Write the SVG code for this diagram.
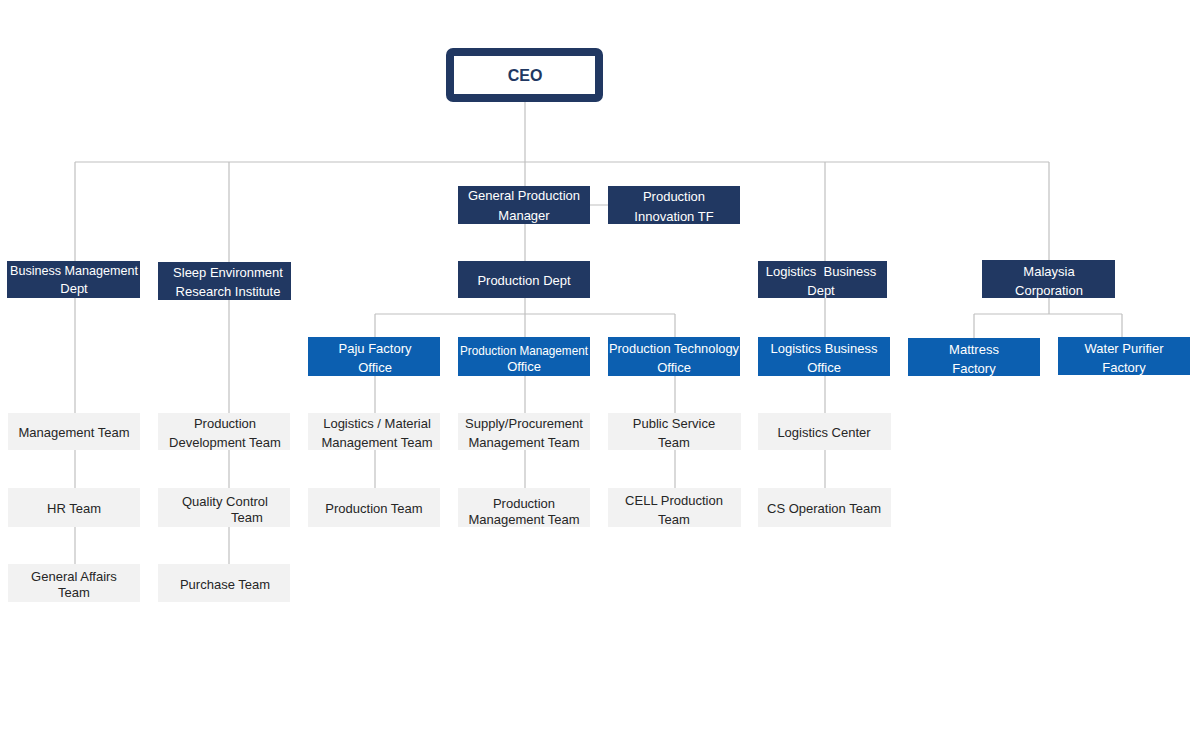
<svg xmlns="http://www.w3.org/2000/svg" width="1200" height="734" viewBox="0 0 1200 734">
<style>
.dk{fill:#213862}
.bl{fill:#0c5fb0}
.gr{fill:#f2f2f2}
.w{fill:#ffffff;font-family:"Liberation Sans","Noto Sans",sans-serif;font-size:13px;text-anchor:middle}
.t{fill:#262626;font-family:"Liberation Sans","Noto Sans",sans-serif;font-size:13px;text-anchor:middle}
.ln{stroke:#c0c0c0;stroke-width:1.2;fill:none}
</style>
<rect width="1200" height="734" fill="#ffffff"/>
<g id="connectors" class="ln">
<path d="M525 102V186M75 162H1049M75 162V261M229 162V262M825 162V261M1049 162V260M590 205H608"/>
<path d="M525 224V261M525 298V337M375 314H675M375 314V337M675 314V337"/>
<path d="M75 298V413M75 450V488M75 527V564"/>
<path d="M229 300V413M229 450V488M229 527V564"/>
<path d="M375 376V413M375 450V488M525 376V413M525 450V488M675 376V413M675 450V488"/>
<path d="M825 298V337M825 376V413M825 450V488"/>
<path d="M1049 298V314M974 314H1122M974 314V338M1122 314V337"/>
</g>
<g id="ceo"><rect x="450" y="52" width="149" height="46" rx="3" fill="#ffffff" stroke="#213862" stroke-width="8"/><text x="525" y="81" class="t" style="font-weight:bold;font-size:16px;fill:#213862">CEO</text></g>
<g id="bm"><rect x="7" y="261" width="133" height="37" class="dk"/><text x="74" y="275" class="w" textLength="128" lengthAdjust="spacingAndGlyphs">Business Management</text><text x="74" y="293" class="w">Dept</text></g>
<g id="se"><rect x="158" y="262" width="133" height="38" class="dk"/><text x="228" y="277" class="w">Sleep Environment</text><text x="228" y="296" class="w">Research Institute</text></g>
<g id="gpm"><rect x="458" y="186" width="132" height="38" class="dk"/><text x="524" y="200" class="w">General Production</text><text x="524" y="220" class="w">Manager</text></g>
<g id="tf"><rect x="608" y="186" width="132" height="38" class="dk"/><text x="674" y="201" class="w">Production</text><text x="674" y="221" class="w">Innovation TF</text></g>
<g id="pd"><rect x="458" y="261" width="132" height="37" class="dk"/><text x="524" y="284.5" class="w">Production Dept</text></g>
<g id="lbd"><rect x="758" y="261" width="129" height="37" class="dk"/><text x="821" y="276" class="w">Logistics&#160; Business</text><text x="821" y="295" class="w">Dept</text></g>
<g id="mc"><rect x="982" y="260" width="133" height="38" class="dk"/><text x="1049" y="276" class="w">Malaysia</text><text x="1049" y="295" class="w">Corporation</text></g>
<g id="pfo"><rect x="308" y="337" width="132" height="39" class="bl"/><text x="375" y="352.5" class="w">Paju Factory</text><text x="375" y="371.5" class="w">Office</text></g>
<g id="pmo"><rect x="458" y="337" width="132" height="39" class="bl"/><text x="524" y="354.5" class="w" textLength="128" lengthAdjust="spacingAndGlyphs">Production Management</text><text x="524" y="370.5" class="w">Office</text></g>
<g id="pto"><rect x="608" y="337" width="132" height="39" class="bl"/><text x="674" y="352.5" class="w" textLength="130" lengthAdjust="spacingAndGlyphs">Production Technology</text><text x="674" y="371.5" class="w">Office</text></g>
<g id="lbo"><rect x="758" y="337" width="132" height="39" class="bl"/><text x="824" y="352.5" class="w">Logistics Business</text><text x="824" y="371.5" class="w">Office</text></g>
<g id="mf"><rect x="908" y="338" width="132" height="38" class="bl"/><text x="974" y="353.5" class="w">Mattress</text><text x="974" y="372.5" class="w">Factory</text></g>
<g id="wpf"><rect x="1058" y="337" width="132" height="38" class="bl"/><text x="1124" y="352.5" class="w">Water Purifier</text><text x="1124" y="371.5" class="w">Factory</text></g>
<g id="mt"><rect x="8" y="413" width="132" height="37" class="gr"/><text x="74" y="436.5" class="t">Management Team</text></g>
<g id="hr"><rect x="8" y="488" width="132" height="39" class="gr"/><text x="74" y="513" class="t">HR Team</text></g>
<g id="ga"><rect x="8" y="564" width="132" height="38" class="gr"/><text x="74" y="580.5" class="t">General Affairs</text><text x="74" y="596.5" class="t">Team</text></g>
<g id="pdt"><rect x="158" y="413" width="132" height="37" class="gr"/><text x="225" y="427.5" class="t">Production</text><text x="225" y="446.5" class="t">Development Team</text></g>
<g id="qc"><rect x="158" y="488" width="132" height="39" class="gr"/><text x="225" y="505.5" class="t">Quality Control</text><text x="247" y="521.5" class="t">Team</text></g>
<g id="pt"><rect x="158" y="564" width="132" height="38" class="gr"/><text x="225" y="588.5" class="t">Purchase Team</text></g>
<g id="lm"><rect x="308" y="413" width="132" height="37" class="gr"/><text x="377" y="427.5" class="t">Logistics / Material</text><text x="377" y="446.5" class="t">Management Team</text></g>
<g id="prt"><rect x="308" y="488" width="132" height="39" class="gr"/><text x="374" y="513" class="t">Production Team</text></g>
<g id="sp"><rect x="458" y="413" width="132" height="37" class="gr"/><text x="524" y="427.5" class="t">Supply/Procurement</text><text x="524" y="447" class="t">Management Team</text></g>
<g id="pmt"><rect x="458" y="488" width="132" height="39" class="gr"/><text x="524" y="507.5" class="t">Production</text><text x="524" y="523.5" class="t">Management Team</text></g>
<g id="ps"><rect x="608" y="413" width="133" height="37" class="gr"/><text x="674" y="427.5" class="t">Public Service</text><text x="674" y="446.5" class="t">Team</text></g>
<g id="cell"><rect x="608" y="488" width="133" height="39" class="gr"/><text x="674" y="504.5" class="t">CELL Production</text><text x="674" y="523.5" class="t">Team</text></g>
<g id="lc"><rect x="758" y="413" width="133" height="37" class="gr"/><text x="824" y="436.5" class="t">Logistics Center</text></g>
<g id="cs"><rect x="758" y="488" width="133" height="39" class="gr"/><text x="824" y="513" class="t">CS Operation Team</text></g>
</svg>
